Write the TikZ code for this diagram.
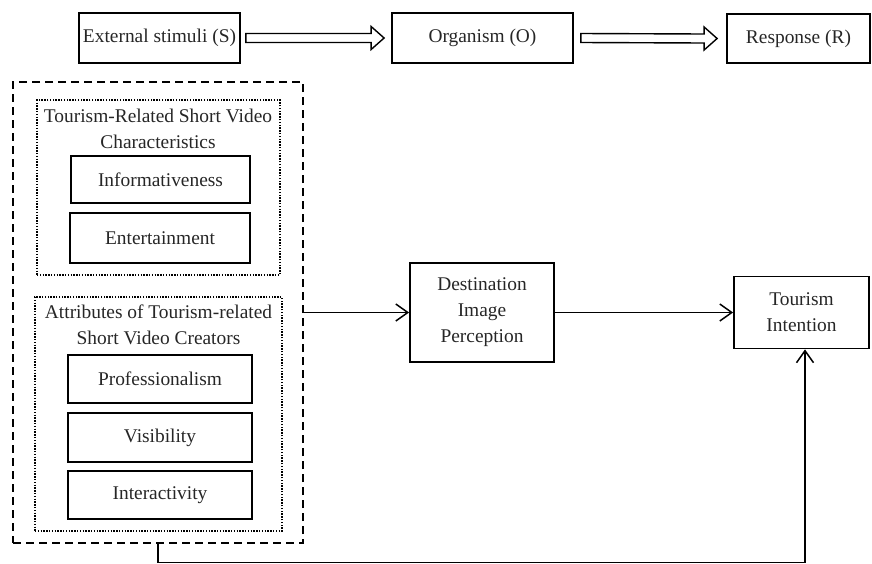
\documentclass[tikz,border=0pt]{standalone}
\usepackage{fontspec}
\setmainfont{Liberation Serif}
\usetikzlibrary{arrows.meta,calc}
\tikzset{
  box/.style={draw, line width=1.8pt, inner sep=0pt, align=center, text=black!85},
  outerbox/.style={draw, line width=1.9pt, dash pattern=on 8pt off 5pt, inner sep=0pt},
  dotbox/.style={draw, line width=1.6pt, dash pattern=on 1.4pt off 1.4pt, inner sep=0pt},
  title/.style={align=center, inner sep=0pt, text=black!85},
  arr/.style={line width=1.5pt, -{Straight Barb[length=12pt,width=17pt,line width=1.5pt]}},
  hollow/.style={draw, line width=1.4pt, fill=white},
}
\begin{document}
\begin{tikzpicture}[x=1pt,y=-1pt]
\useasboundingbox (0,0) rectangle (872,563);
\fontsize{19.4pt}{26pt}\selectfont
% top row
\node[box, minimum width=161pt, minimum height=50pt] (ext) at (159.5,38) {External stimuli (S)};
\node[box, minimum width=181pt, minimum height=50pt] (org) at (482.5,38) {Organism (O)};
\node[box, minimum width=143pt, minimum height=49pt] (resp) at (798.5,38.5) {Response (R)};
% hollow arrows
\draw[hollow] ($(ext.east)+(5,-4.5)$) -- ($(org.west)+(-20,-4.5)$) -- ($(org.west)+(-20,-11.5)$)
  -- ($(org.west)+(-7,0)$) -- ($(org.west)+(-20,11.5)$) -- ($(org.west)+(-20,4.5)$)
  -- ($(ext.east)+(5,4.5)$) -- cycle;
\draw[hollow] ($(org.east)+(7,-4.5)$) -- ($(resp.west)+(-22,-4.5)$) -- ($(resp.west)+(-22,-11.5)$)
  -- ($(resp.west)+(-9,0)$) -- ($(resp.west)+(-22,11.5)$) -- ($(resp.west)+(-22,4.5)$)
  -- ($(org.east)+(7,4.5)$) -- cycle;
% left group
\node[outerbox, minimum width=290pt, minimum height=461pt] (outer) at (158,312.5) {};
\node[dotbox, minimum width=243pt, minimum height=175pt] (dot1) at (158.5,187.5) {};
\node[title] (t1) at (158,129) {Tourism-Related Short Video\\Characteristics};
\node[box, minimum width=179pt, minimum height=47pt] (info) at (160.5,179.5) {Informativeness};
\node[box, minimum width=180pt, minimum height=50pt] (ent) at (160,238) {Entertainment};
\node[dotbox, minimum width=247pt, minimum height=234pt] (dot2) at (158.5,414) {};
\node[title] (t2) at (158.5,325) {Attributes of Tourism-related\\Short Video Creators};
\node[box, minimum width=184pt, minimum height=48pt] (prof) at (160,379) {Professionalism};
\node[box, minimum width=184pt, minimum height=49pt] (vis) at (160,437.5) {Visibility};
\node[box, minimum width=184pt, minimum height=48pt] (inter) at (160,495) {Interactivity};
% right nodes
\node[box, minimum width=144pt, minimum height=99pt] (dest) at (482,312.5) {Destination\\Image\\Perception};
\node[box, minimum width=135pt, minimum height=72pt] (ti) at (801.5,312.5) {Tourism\\Intention};
% connectors
\draw[arr] (outer.east) -- (dest.west);
\draw[arr] (dest.east) -- (ti.west);
\draw[line width=1.3pt, -{Straight Barb[length=12pt,width=17pt,line width=1.5pt]}]
  (outer.south) -- ++(0,18.5) -| ([xshift=3.5pt]ti.south);
\end{tikzpicture}
\end{document}
